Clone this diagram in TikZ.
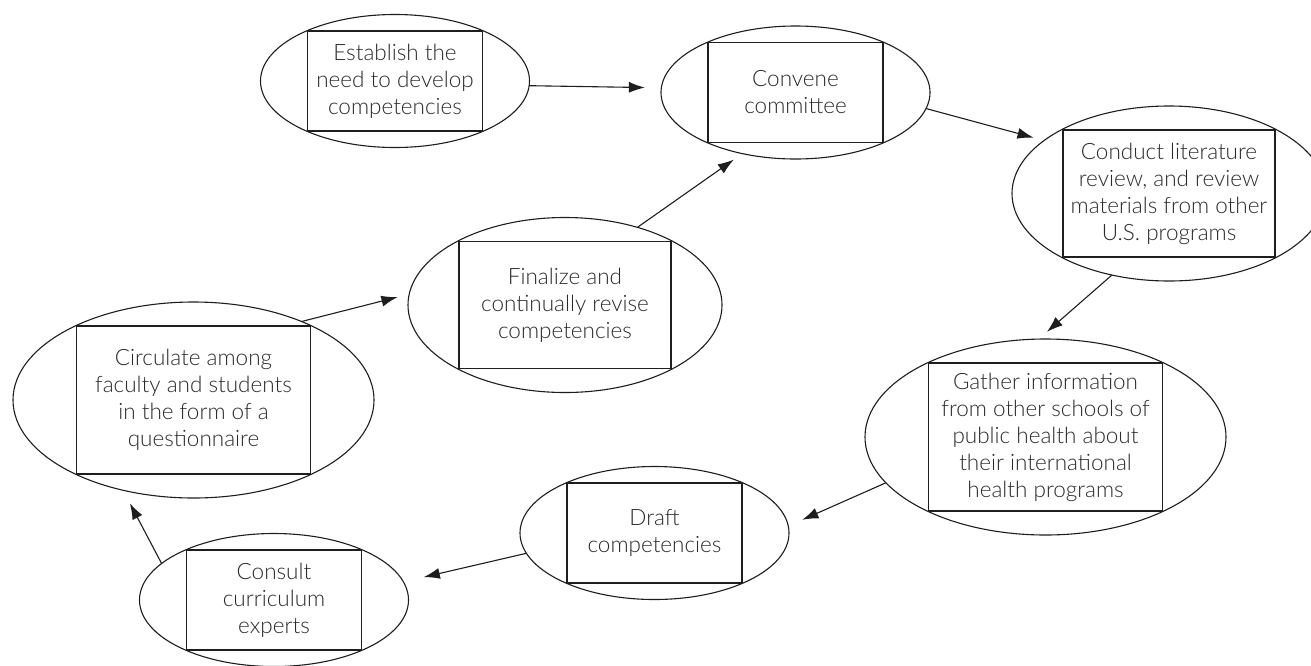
\documentclass[tikz,border=0pt]{standalone}
\usepackage{fontspec}
\setmainfont{Lato Light}
\usetikzlibrary{arrows.meta,shapes.geometric}
\definecolor{ink}{HTML}{1E1E1E}
\definecolor{txt}{HTML}{2A2A2A}
\begin{document}
\begin{tikzpicture}[x=1pt,y=-1pt,
  oval/.style={draw=ink, line width=1.1pt, ellipse, inner sep=0pt, outer sep=0pt},
  smallov/.style={oval, minimum width=269pt, minimum height=133pt},
  medov/.style={oval, minimum width=314pt, minimum height=175pt},
  largeov/.style={oval, minimum width=361pt, minimum height=196pt},
  box/.style={draw=ink, line width=1.4pt, rectangle, inner sep=0pt, outer sep=0pt,
    align=center, text=txt, font=\fontsize{22.5}{27}\selectfont},
  smallbox/.style={box, minimum width=175pt, minimum height=100pt},
  medbox/.style={box, minimum width=212pt, minimum height=127pt},
  largebox/.style={box, minimum width=234pt, minimum height=148pt},
  arr/.style={draw=ink, line width=1.1pt, -{Latex[length=16pt,width=11pt]}}]
\clip (0,0) rectangle (1311,665);
\fill[white] (0,0) rectangle (1311,665);
% ellipses
\node[smallov] (e1) at (395,81) {};
\node[smallov] (e2) at (795.5,92.5) {};
\node[medov] (e3) at (1169,193.5) {};
\node[largeov] (e4) at (1045.5,437) {};
\node[smallov] (e5) at (654.5,533) {};
\node[smallov] (e6) at (274,600) {};
\node[largeov] (e7) at (193.5,400) {};
\node[medov] (e8) at (565,305) {};
% boxes with text
\node[smallbox] (r1) at (395,81) {Establish the\\need to develop\\competencies};
\node[smallbox] (r2) at (795.5,92.5) {Convene\\committee};
\node[medbox] (r3) at (1169,193.5) {Conduct literature\\review, and review\\materials from other\\U.S. programs};
\node[largebox] (r4) at (1045.5,437) {Gather information\\from other schools of\\public health about\\their international\\health programs};
\node[smallbox] (r5) at (654.5,533) {Draft\\competencies};
\node[smallbox] (r6) at (274,600) {Consult\\curriculum\\experts};
\node[largebox] (r7) at (193.5,400) {Circulate among\\faculty and students\\in the form of a\\questionnaire};
\node[medbox] (r8) at (565,305) {Finalize and\\continually revise\\competencies};
% connectors
\draw[arr, shorten >=16.5pt] (e1.-2.1) -- (e2.178.7);
\draw[arr, shorten >=11pt] (e2.-7.2) -- (e3.157.2);
\draw[arr, shorten >=11pt] (e3.-125.2) -- (e4.94.5);
\draw[arr, shorten >=15.4pt] (e4.-164) -- (e5.3.9);
\draw[arr, shorten >=21pt] (e5.-171.8) -- (e6.8.0);
\draw[arr, shorten >=14.8pt] (e6.162.2) -- (e7.-128.3);
\draw[arr, shorten >=12.2pt] (e7.36.1) -- (e8.176.4);
\draw[arr, shorten >=10.5pt] (e8.47.3) -- (e2.-131.7);
\end{tikzpicture}
\end{document}
